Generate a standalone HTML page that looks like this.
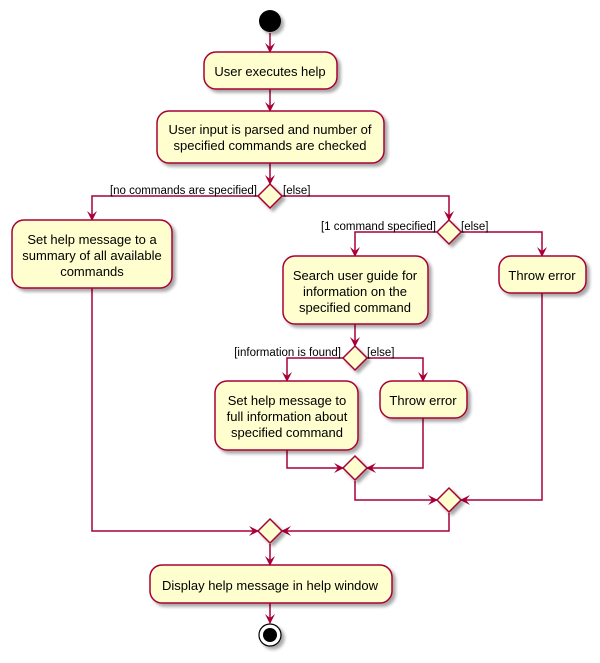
<!DOCTYPE html>
<html><head><meta charset="utf-8"><style>
html,body{margin:0;padding:0;background:#fff;}
svg{display:block;}
text{font-family:"Liberation Sans",Arial,sans-serif;font-size:13px;fill:#000;}
.l{font-size:11.5px;}
</style></head><body>
<svg width="600" height="663" viewBox="0 0 600 663" xmlns="http://www.w3.org/2000/svg">
<defs>
<filter id="s" x="-20%" y="-20%" width="150%" height="150%"><feGaussianBlur in="SourceAlpha" stdDeviation="1.5"/><feOffset dx="3" dy="3" result="o"/><feComponentTransfer><feFuncA type="linear" slope="0.35"/></feComponentTransfer><feMerge><feMergeNode/><feMergeNode in="SourceGraphic"/></feMerge></filter>
<marker id="a" markerWidth="10" markerHeight="10" refX="9" refY="5" orient="auto" markerUnits="userSpaceOnUse"><path d="M0,0 L10,5 L0,10 L4,5 Z" fill="#A80036"/></marker>
</defs>
<g fill="none" stroke="#A80036" stroke-width="1.5" marker-end="url(#a)">
<path d="M270,33 V52"/>
<path d="M270,89 V111"/>
<path d="M270,163 V184"/>
<path d="M258,196 H92 V220"/>
<path d="M282,196 H449 V220"/>
<path d="M437,232 H355 V256"/>
<path d="M461,232 H542 V256"/>
<path d="M355,324 V346"/>
<path d="M343,358 H287 V381"/>
<path d="M367,358 H423 V381"/>
<path d="M287,450 V468 H343"/>
<path d="M423,418 V468 H367"/>
<path d="M355,481 V500 H437"/>
<path d="M542,293 V500 H461"/>
<path d="M92,288 V531 H258"/>
<path d="M449,513 V531 H282"/>
<path d="M270,544 V565"/>
<path d="M270,603 V623"/>
</g>
<g fill="#FEFECE" stroke="#A80036" stroke-width="1.5" filter="url(#s)">
<rect x="204" y="52" width="133" height="37" rx="12"/>
<rect x="157" y="111" width="227" height="52" rx="12"/>
<rect x="12" y="220" width="160" height="68" rx="12"/>
<rect x="283" y="256" width="145" height="68" rx="12"/>
<rect x="499" y="256" width="87" height="37" rx="12"/>
<rect x="215" y="381" width="143" height="69" rx="12"/>
<rect x="380" y="381" width="87" height="37" rx="12"/>
<rect x="150" y="565" width="242" height="38" rx="12"/>
<path d="M270,184 L282,196 L270,208 L258,196 Z"/>
<path d="M449,220 L461,232 L449,244 L437,232 Z"/>
<path d="M355,346 L367,358 L355,370 L343,358 Z"/>
<path d="M355,456 L367,468 L355,480 L343,468 Z"/>
<path d="M449,488 L461,500 L449,512 L437,500 Z"/>
<path d="M270,519 L282,531 L270,543 L258,531 Z"/>
</g>
<circle cx="270" cy="21" r="11" fill="#000" filter="url(#s)"/>
<circle cx="270" cy="635" r="11" fill="#fff" stroke="#000" stroke-width="1.2" filter="url(#s)"/>
<circle cx="270" cy="635" r="7" fill="#000"/>
<g text-anchor="middle">
<text x="270" y="76">User executes help</text>
<text x="270" y="134">User input is parsed and number of</text>
<text x="270" y="150">specified commands are checked</text>
<text x="92" y="244">Set help message to a</text>
<text x="92" y="260">summary of all available</text>
<text x="92" y="276">commands</text>
<text x="355" y="280">Search user guide for</text>
<text x="355" y="296">information on the</text>
<text x="355" y="312">specified command</text>
<text x="542" y="280">Throw error</text>
<text x="287" y="405">Set help message to</text>
<text x="287" y="421">full information about</text>
<text x="287" y="437">specified command</text>
<text x="423" y="405">Throw error</text>
<text x="270" y="590">Display help message in help window</text>
</g>
<g class="l">
<text class="l" x="257" y="194" text-anchor="end">[no commands are specified]</text>
<text class="l" x="283" y="194">[else]</text>
<text class="l" x="436" y="230" text-anchor="end">[1 command specified]</text>
<text class="l" x="461" y="230">[else]</text>
<text class="l" x="341" y="356" text-anchor="end">[information is found]</text>
<text class="l" x="367" y="356">[else]</text>
</g>
</svg>
</body></html>
